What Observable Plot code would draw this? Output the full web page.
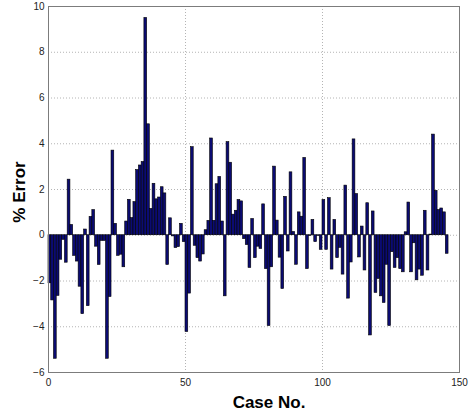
<!DOCTYPE html>
<html>
<head>
<meta charset="utf-8">
<script src="https://cdn.jsdelivr.net/npm/d3@7"></script>
<script src="https://cdn.jsdelivr.net/npm/@observablehq/plot@0.6"></script>
<style>
  html, body { margin: 0; padding: 0; background: #fff; }
  svg { display: block; }
</style>
</head>
<body>
<script>
// Percentage error for each test case (case 1 .. 146)
const errors = [
  -2.1, -2.85, -5.4, -2.65, -1.07, -0.2, -1.2, 2.43, 0.45, -0.9,
  -1.15, -2.25, -3.45, 0.25, -3.1, 0.8, 1.1, -0.5, -1.3, -0.25,
  -0.25, -5.4, -2.7, 3.7, 0.5, -0.9, -0.85, -1.4, 0.6, 1.55,
  0.75, 1.45, 2.85, 3.05, 3.2, 9.5, 4.85, 1.15, 2.25, 1.57,
  1.65, 2.1, 1.83, -1.3, 0.74, -0.05, -0.56, -0.52, 0.5, -0.3,
  -4.23, -2.55, 3.85, -0.46, -1.0, -1.15, -0.84, 0.22, 0.63, 4.23,
  0.63, 2.23, 2.55, 0.6, -2.67, 4.07, 3.17, 0.9, 1.07, 1.54,
  1.48, -0.17, -0.43, -1.43, 0.71, -1.0, -0.5, -0.6, 1.35, -1.48,
  -3.97, -1.4, 3.0, 0.64, -0.98, -2.35, 1.68, -0.71, 2.75, 0.14,
  -1.29, 1.0, 0.81, 3.38, -1.48, -0.03, 0.67, -0.3, -0.03, -0.64,
  1.54, -0.64, 1.62, -1.5, 0.67, -1.0, -0.55, -1.72, 2.17, -2.77,
  -1.19, 4.19, 1.8, -0.97, 0.38, -1.54, 1.4, -4.38, 1.04, -2.52,
  -1.91, -2.67, -2.96, -1.29, -3.97, -0.74, -1.43, -1.0, -1.48, -1.62,
  0.13, 1.43, -1.62, -0.35, -1.97, -1.5, -1.77, 1.07, -1.54, 0.03,
  4.4, 1.94, 1.1, 1.17, 1.0, -0.81
];
const caseNo = errors.map((_, i) => i + 1);

const xTicks = [0, 50, 100, 150];
const yTicks = [-6, -4, -2, 0, 2, 4, 6, 8, 10];
const xGrid = [50, 100];
const yGrid = [-4, -2, 0, 2, 4, 6, 8];

const xLabel = "Case No.";
const yLabel = "% Error";

const rows = caseNo.map((k, i) => ({k, v: errors[i]}));

const chart = Plot.plot({
  width: 469,
  height: 416,
  marginLeft: 48,
  marginRight: 10,
  marginTop: 6,
  marginBottom: 44,
  style: {
    fontFamily: "'Liberation Sans', Arial, sans-serif",
    fontSize: "10px",
    color: "#222",
    background: "#fff"
  },
  x: {domain: [0, 150], ticks: xTicks, tickSize: 0, tickPadding: 6, label: null},
  y: {domain: [-6, 10], ticks: yTicks, tickSize: 0, tickPadding: 4, label: null},
  marks: [
    Plot.ruleX(xGrid, {stroke: "#b4b4b4", strokeDasharray: "1,2"}),
    Plot.ruleY(yGrid, {stroke: "#b4b4b4", strokeDasharray: "1,2"}),
    Plot.rectY(rows, {
      x1: d => d.k - 1,
      x2: d => d.k,
      y1: 0,
      y2: d => d.v,
      fill: "#0b0b72",
      stroke: "#000",
      strokeWidth: 0.6
    }),
    Plot.frame({stroke: "#7c7c7c"})
  ]
});

document.body.appendChild(chart);

// axis titles
const svg = d3.select(chart);
svg.append("text")
  .attr("x", 269)
  .attr("y", 408)
  .attr("text-anchor", "middle")
  .attr("font-family", "'Liberation Sans', Arial, sans-serif")
  .attr("font-weight", "bold")
  .attr("font-size", 17)
  .attr("fill", "#000")
  .text(xLabel);
svg.append("text")
  .attr("transform", "translate(25,192) rotate(-90)")
  .attr("text-anchor", "middle")
  .attr("font-family", "'Liberation Sans', Arial, sans-serif")
  .attr("font-weight", "bold")
  .attr("font-size", 17)
  .attr("fill", "#000")
  .text(yLabel);
</script>
</body>
</html>
